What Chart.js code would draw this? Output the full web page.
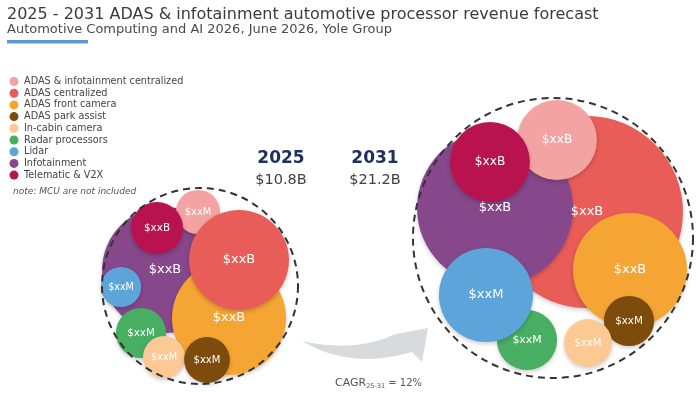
<!DOCTYPE html>
<html>
<head>
<meta charset="utf-8">
<script src="https://cdn.jsdelivr.net/npm/chart.js@4.4.1/dist/chart.umd.min.js"></script>
<style>
    html, body { margin: 0; padding: 0; background: #fff; }
    #wrap { width: 700px; height: 394px; position: relative; }
</style>
</head>
<body>
<div id="wrap"><canvas id="forecastChart"></canvas></div>
<script>
// segments, in legend order
const segments = [
    'ADAS & infotainment centralized',
    'ADAS centralized',
    'ADAS front camera',
    'ADAS park assist',
    'In-cabin camera',
    'Radar processors',
    'Lidar',
    'Infotainment',
    'Telematic & V2X',
];
const segmentColors = ['#f3a3a2', '#e95d58', '#f5a533', '#7d4b0c', '#fcc893', '#48ae62', '#5ca4d9', '#86478b', '#b9134f'];

// revenue ($B)
const revenue2025 = [0.41, 2.10, 2.73, 0.44, 0.37, 0.53, 0.34, 3.33, 0.57];
const revenue2031 = [1.34, 7.74, 2.73, 0.53, 0.48, 0.76, 1.86, 5.11, 1.34];
const labels2025 = ['$xxM', '$xxB', '$xxB', '$xxM', '$xxM', '$xxM', '$xxM', '$xxB', '$xxB'];
const labels2031 = ['$xxB', '$xxB', '$xxB', '$xxM', '$xxM', '$xxM', '$xxM', '$xxB', '$xxB'];
const years = ['2025', '2031'];
const totals = ['$10.8B', '$21.2B'];
const cagrValue = '12%';

// packing layout (axis units) and stacking order of the bubbles
const pack2025 = [[198, 212], [239, 260], [229, 318], [207, 360], [164, 357], [141, 333], [121, 287], [165, 270], [157, 228]];
const pack2031 = [[557, 140], [587, 212], [630, 270], [629, 321], [588, 343], [527, 340], [486, 295], [495, 208], [490, 162]];
const stack2025 = [7, 2, 0, 1, 8, 6, 5, 4, 3];
const stack2031 = [1, 7, 0, 8, 5, 6, 2, 3, 4];
const outlines = [[200, 286, 98], [553, 238, 140]];
const yearLabelX = [281, 375];
const BUBBLE_K = 34.5; // px of radius per sqrt($B), bubble area ~ revenue

function buildPoints(values, labels, pack, stack) {
    return stack.map(i => ({
        x: pack[i][0],
        y: pack[i][1],
        r: BUBBLE_K * Math.sqrt(values[i]),
        seg: i,
        label: labels[i]
    }));
}

Chart.defaults.font.family = '"DejaVu Sans", sans-serif';

const decorations = {
    id: 'decorations',
    beforeDatasetsDraw(chart) {
        const {ctx, scales: {x, y}} = chart;
        const P = (a, b) => [x.getPixelForValue(a), y.getPixelForValue(b)];

        // gray growth arrow
        ctx.save();
        ctx.fillStyle = '#d8dbde';
        ctx.beginPath();
        ctx.moveTo(...P(302, 341));
        ctx.quadraticCurveTo(...P(355, 353), ...P(396, 334));
        ctx.lineTo(...P(428, 328));
        ctx.lineTo(...P(422, 362));
        ctx.lineTo(...P(412, 352));
        ctx.quadraticCurveTo(...P(350, 370), ...P(302, 341));
        ctx.fill();
        ctx.restore();

        // soft shadow under bubbles
        ctx.save();
        ctx.shadowColor = 'rgba(0,0,0,0.2)';
        ctx.shadowBlur = 4;
        ctx.shadowOffsetY = 2;
    },
    afterDatasetsDraw(chart) {
        const {ctx, scales: {x, y}} = chart;
        ctx.restore();

        // labels inside bubbles
        ctx.save();
        ctx.fillStyle = '#ffffff';
        ctx.textAlign = 'center';
        ctx.textBaseline = 'middle';
        chart.data.datasets.forEach((ds, di) => {
            chart.getDatasetMeta(di).data.forEach((el, i) => {
                const r = el.options.radius;
                ctx.font = Math.min(13, 7 + 0.13 * r).toFixed(1) + 'px "DejaVu Sans"';
                ctx.fillText(ds.data[i].label, el.x, el.y);
            });
        });
        ctx.restore();

        // dashed outline of each year
        ctx.save();
        ctx.strokeStyle = '#333333';
        ctx.lineWidth = 2;
        ctx.setLineDash([7, 5]);
        outlines.forEach(o => {
            const r = Math.abs(x.getPixelForValue(o[2]) - x.getPixelForValue(0));
            ctx.beginPath();
            ctx.arc(x.getPixelForValue(o[0]), y.getPixelForValue(o[1]), r, 0, Math.PI * 2);
            ctx.stroke();
        });
        ctx.restore();
    },
    afterDraw(chart) {
        const ctx = chart.ctx;
        ctx.save();

        // title block
        ctx.textAlign = 'left';
        ctx.textBaseline = 'alphabetic';
        ctx.fillStyle = '#3b3b3b';
        ctx.font = '16px "DejaVu Sans"';
        ctx.fillText('2025 - 2031 ADAS & infotainment automotive processor revenue forecast', 7, 18.5);
        ctx.fillStyle = '#4a4a4a';
        ctx.font = '13px "DejaVu Sans"';
        ctx.fillText('Automotive Computing and AI 2026, June 2026, Yole Group', 7, 32.5);
        ctx.fillStyle = '#5b9bd0';
        ctx.fillRect(7, 40, 81, 3.5);

        // legend
        ctx.font = '9.7px "DejaVu Sans"';
        ctx.textBaseline = 'middle';
        segments.forEach((s, i) => {
            const cy = 81.5 + i * 11.7;
            ctx.fillStyle = segmentColors[i];
            ctx.beginPath();
            ctx.arc(14, cy, 4.5, 0, Math.PI * 2);
            ctx.fill();
            ctx.fillStyle = '#444444';
            ctx.fillText(s, 24, cy);
        });
        ctx.font = 'italic 9px "DejaVu Sans"';
        ctx.fillStyle = '#555555';
        ctx.fillText('note: MCU are not included', 13, 192);

        // year headers
        ctx.textAlign = 'center';
        ctx.textBaseline = 'alphabetic';
        years.forEach((yr, i) => {
            ctx.font = 'bold 17px "DejaVu Sans"';
            ctx.fillStyle = '#1f3060';
            ctx.fillText(yr, yearLabelX[i], 163);
            ctx.font = '14.5px "DejaVu Sans"';
            ctx.fillStyle = '#404040';
            ctx.fillText(totals[i], yearLabelX[i], 183.5);
        });

        // CAGR note
        ctx.textAlign = 'left';
        ctx.fillStyle = '#555555';
        let cx = 335;
        ctx.font = '11px "DejaVu Sans"';
        ctx.fillText('CAGR', cx, 385.5);
        cx += ctx.measureText('CAGR').width;
        ctx.font = '6.5px "DejaVu Sans"';
        ctx.fillText('25-31', cx, 388);
        cx += ctx.measureText('25-31').width;
        ctx.font = '10px "DejaVu Sans"';
        ctx.fillText(' = ' + cagrValue, cx, 385.5);

        ctx.restore();
    }
};

new Chart(document.getElementById('forecastChart'), {
    type: 'bubble',
    data: {
        datasets: [
            {label: years[0], data: buildPoints(revenue2025, labels2025, pack2025, stack2025)},
            {label: years[1], data: buildPoints(revenue2031, labels2031, pack2031, stack2031)},
        ]
    },
    options: {
        responsive: true,
        maintainAspectRatio: false,
        animation: false,
        events: [],
        layout: {padding: 0, autoPadding: false},
        elements: {
            point: {
                borderWidth: 0,
                backgroundColor: ctx => ctx.raw ? segmentColors[ctx.raw.seg] : '#cccccc',
            }
        },
        plugins: {
            legend: {display: false},
            tooltip: {enabled: false},
        },
        scales: {
            x: {type: 'linear', min: 0, max: 700, display: false},
            y: {type: 'linear', min: 0, max: 394, reverse: true, display: false},
        }
    },
    plugins: [decorations]
});
</script>
</body>
</html>
